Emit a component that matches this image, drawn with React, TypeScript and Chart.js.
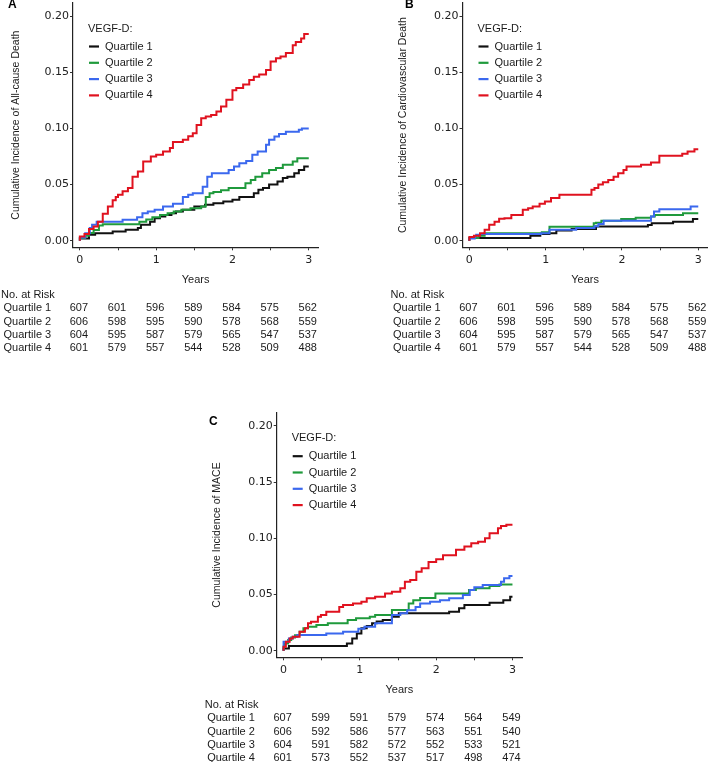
import React, { useEffect, useRef } from 'react';
import { Chart, registerables } from 'chart.js';
Chart.register(...registerables);

const SERIES_NAMES = ['Quartile 1', 'Quartile 2', 'Quartile 3', 'Quartile 4'];
const SERIES_COLORS = ['#111111', '#1f9a3c', '#3b68ee', '#e0121f'];
const X_TICKS = [0, 0.5, 1, 1.5, 2, 2.5, 3];
const Y_TICKS = [0, 0.05, 0.1, 0.15, 0.2];
const RISK_TIMES = [0, 0.5, 1, 1.5, 2, 2.5, 3];
const X_MIN = -0.09;
const X_MAX = 3.125;
const Y_MIN = -0.0058;
const Y_MAX = 0.2116;

// ---------- Panel A: All-cause death ----------
const A_Q1_T = [0, 0.12, 0.2, 0.43, 0.6, 0.76, 0.8, 0.92, 0.98, 1.05, 1.12, 1.2, 1.26, 1.35, 1.5, 1.64, 1.75, 1.88, 2.0, 2.09, 2.28, 2.34, 2.4, 2.48, 2.59, 2.66, 2.72, 2.81, 2.87, 2.94, 2.98, 3.0];
const A_Q1_Y = [0, 0.002, 0.0053, 0.0068, 0.0083, 0.0098, 0.0113, 0.0142, 0.017, 0.02, 0.0216, 0.023, 0.0246, 0.026, 0.0276, 0.0305, 0.032, 0.0335, 0.035, 0.0365, 0.039, 0.0424, 0.0454, 0.047, 0.05, 0.0528, 0.0558, 0.057, 0.06, 0.063, 0.066, 0.066];
const A_Q2_T = [0, 0.07, 0.12, 0.18, 0.25, 0.3, 0.78, 0.87, 0.95, 1.05, 1.15, 1.23, 1.33, 1.45, 1.59, 1.65, 1.7, 1.75, 1.85, 1.95, 2.17, 2.24, 2.3, 2.39, 2.48, 2.57, 2.66, 2.79, 2.85, 2.92, 3.0];
const A_Q2_Y = [0, 0.0024, 0.0045, 0.007, 0.0095, 0.0135, 0.0148, 0.017, 0.019, 0.021, 0.023, 0.0246, 0.026, 0.0276, 0.029, 0.0305, 0.039, 0.0424, 0.0435, 0.045, 0.047, 0.0513, 0.054, 0.057, 0.06, 0.063, 0.0647, 0.0676, 0.0705, 0.0735, 0.0735];
const A_Q3_T = [0, 0.07, 0.13, 0.16, 0.22, 0.56, 0.75, 0.82, 0.89, 0.98, 1.09, 1.22, 1.35, 1.42, 1.48, 1.61, 1.67, 1.73, 1.95, 2.02, 2.09, 2.18, 2.26, 2.33, 2.44, 2.48, 2.55, 2.61, 2.7, 2.87, 2.91, 2.98, 3.0];
const A_Q3_Y = [0, 0.003, 0.0068, 0.0113, 0.0142, 0.017, 0.0187, 0.021, 0.0246, 0.026, 0.0276, 0.0305, 0.033, 0.039, 0.041, 0.0424, 0.048, 0.057, 0.06, 0.063, 0.066, 0.069, 0.071, 0.0765, 0.0795, 0.0854, 0.09, 0.0928, 0.095, 0.097, 0.0988, 0.1, 0.1];
const A_Q4_T = [0, 0.06, 0.12, 0.18, 0.236, 0.3, 0.367, 0.43, 0.47, 0.5, 0.56, 0.63, 0.69, 0.76, 0.83, 0.93, 1.0, 1.09, 1.18, 1.22, 1.35, 1.42, 1.48, 1.53, 1.59, 1.65, 1.72, 1.79, 1.85, 1.92, 2.0, 2.05, 2.14, 2.22, 2.28, 2.35, 2.44, 2.5, 2.57, 2.63, 2.7, 2.79, 2.83, 2.9, 2.94, 2.98, 3.0];
const A_Q4_Y = [0, 0.0038, 0.006, 0.0104, 0.0127, 0.017, 0.024, 0.0305, 0.036, 0.039, 0.041, 0.044, 0.047, 0.057, 0.0617, 0.0706, 0.075, 0.0765, 0.0795, 0.0825, 0.088, 0.09, 0.093, 0.0958, 0.103, 0.109, 0.1106, 0.112, 0.115, 0.1195, 0.1254, 0.134, 0.136, 0.139, 0.143, 0.146, 0.148, 0.152, 0.1595, 0.1625, 0.164, 0.167, 0.174, 0.177, 0.18, 0.184, 0.184];
const A_RISK_Q1 = [607, 601, 596, 589, 584, 575, 562];
const A_RISK_Q2 = [606, 598, 595, 590, 578, 568, 559];
const A_RISK_Q3 = [604, 595, 587, 579, 565, 547, 537];
const A_RISK_Q4 = [601, 579, 557, 544, 528, 509, 488];

// ---------- Panel B: Cardiovascular death ----------
const B_Q1_T = [0, 0.8, 0.93, 1.05, 1.14, 1.34, 1.66, 2.34, 2.39, 2.67, 2.93, 2.98, 3.0];
const B_Q1_Y = [0, 0.0024, 0.0045, 0.006, 0.0068, 0.0092, 0.0104, 0.0127, 0.014, 0.0157, 0.017, 0.0193, 0.0193];
const B_Q2_T = [0, 0.12, 0.2, 0.95, 1.05, 1.63, 1.66, 1.73, 1.99, 2.18, 2.38, 2.43, 2.8, 2.94, 3.0];
const B_Q2_Y = [0, 0.0025, 0.0045, 0.0068, 0.0075, 0.0125, 0.0155, 0.016, 0.0178, 0.0193, 0.0205, 0.0216, 0.023, 0.0245, 0.0245];
const B_Q3_T = [0, 0.07, 0.09, 0.14, 0.94, 1.05, 1.4, 1.64, 1.69, 1.76, 2.38, 2.42, 2.49, 2.9, 2.94, 3.0];
const B_Q3_Y = [0, 0.002, 0.004, 0.0053, 0.006, 0.0068, 0.0098, 0.0113, 0.013, 0.015, 0.0178, 0.0216, 0.026, 0.028, 0.0305, 0.0305];
const B_Q4_T = [0, 0.06, 0.14, 0.2, 0.26, 0.33, 0.39, 0.46, 0.55, 0.7, 0.77, 0.83, 0.92, 0.99, 1.07, 1.18, 1.6, 1.64, 1.69, 1.75, 1.82, 1.89, 1.95, 2.02, 2.06, 2.25, 2.38, 2.49, 2.79, 2.86, 2.95, 2.99, 3.0];
const B_Q4_Y = [0, 0.0033, 0.0045, 0.0068, 0.0098, 0.0142, 0.017, 0.0196, 0.02, 0.023, 0.0276, 0.029, 0.0305, 0.033, 0.035, 0.038, 0.041, 0.0454, 0.047, 0.05, 0.052, 0.054, 0.057, 0.06, 0.063, 0.066, 0.0676, 0.0697, 0.0756, 0.0774, 0.0795, 0.0815, 0.0815];
const B_RISK_Q1 = [607, 601, 596, 589, 584, 575, 562];
const B_RISK_Q2 = [606, 598, 595, 590, 578, 568, 559];
const B_RISK_Q3 = [604, 595, 587, 579, 565, 547, 537];
const B_RISK_Q4 = [601, 579, 557, 544, 528, 509, 488];

// ---------- Panel C: MACE ----------
const C_Q1_T = [0, 0.07, 0.83, 0.9, 0.96, 1.02, 1.09, 1.16, 1.22, 1.3, 1.42, 1.51, 2.17, 2.3, 2.37, 2.7, 2.88, 2.97, 3.0];
const C_Q1_Y = [0, 0.002, 0.0042, 0.0065, 0.011, 0.0154, 0.02, 0.022, 0.0244, 0.026, 0.0273, 0.0303, 0.0333, 0.0347, 0.0377, 0.0406, 0.0427, 0.045, 0.048];
const C_Q2_T = [0, 0.01, 0.06, 0.1, 0.15, 0.21, 0.26, 0.32, 0.43, 0.58, 0.84, 0.95, 1.13, 1.2, 1.42, 1.64, 1.7, 1.79, 1.99, 2.43, 2.52, 2.7, 2.83, 2.92, 3.0];
const C_Q2_Y = [0, 0.0036, 0.0065, 0.0095, 0.0119, 0.0139, 0.017, 0.02, 0.0214, 0.023, 0.0244, 0.0273, 0.0288, 0.0303, 0.0318, 0.0362, 0.042, 0.045, 0.047, 0.051, 0.054, 0.0556, 0.0576, 0.059, 0.059];
const C_Q3_T = [0, 0.07, 0.12, 0.18, 0.56, 0.78, 0.98, 1.06, 1.2, 1.42, 1.53, 1.62, 1.73, 1.79, 1.92, 2.05, 2.17, 2.35, 2.44, 2.5, 2.61, 2.85, 2.89, 2.96, 3.0];
const C_Q3_Y = [0, 0.008, 0.011, 0.0125, 0.014, 0.0154, 0.017, 0.0195, 0.0214, 0.0244, 0.0318, 0.0333, 0.036, 0.039, 0.042, 0.0436, 0.045, 0.0467, 0.0496, 0.054, 0.0565, 0.0585, 0.0614, 0.0645, 0.0665];
const C_Q4_T = [0, 0.03, 0.08, 0.12, 0.21, 0.28, 0.32, 0.36, 0.45, 0.49, 0.56, 0.73, 0.78, 0.91, 1.02, 1.09, 1.2, 1.33, 1.42, 1.53, 1.59, 1.66, 1.74, 1.81, 1.9, 2.0, 2.09, 2.26, 2.37, 2.46, 2.55, 2.64, 2.7, 2.81, 2.85, 2.92, 3.0];
const C_Q4_Y = [0, 0.0036, 0.008, 0.011, 0.0125, 0.017, 0.02, 0.0244, 0.0259, 0.0303, 0.0318, 0.0347, 0.039, 0.0407, 0.042, 0.0436, 0.0467, 0.048, 0.051, 0.0525, 0.0556, 0.0614, 0.063, 0.0703, 0.0734, 0.079, 0.0814, 0.085, 0.0897, 0.0926, 0.0956, 0.097, 0.1, 0.1045, 0.109, 0.111, 0.112];
const C_RISK_Q1 = [607, 599, 591, 579, 574, 564, 549];
const C_RISK_Q2 = [606, 592, 586, 577, 563, 551, 540];
const C_RISK_Q3 = [604, 591, 582, 572, 552, 533, 521];
const C_RISK_Q4 = [601, 573, 552, 537, 517, 498, 474];

const SANS = '"Liberation Sans", Arial, sans-serif';
const TICK_FONT = '"DejaVu Sans", "Liberation Sans", sans-serif';
const XH = 40; // height of x-axis box (ticks + labels + title)

type Panel = {
  key: string;
  left: number; top: number; W: number; H: number;
  L: number; R: number; T: number; B: number;
  letter: string; letterX: number; letterY: number;
  yTitle: string; yTitleX: number;
  times: number[][]; values: number[][];
  risk: number[][];
};

const PANELS: Panel[] = [
  {
    key: 'A', left: 0, top: 0, W: 360, H: 370,
    L: 73, R: 318.3, T: 3, B: 247.3,
    letter: 'A', letterX: 8, letterY: 5,
    yTitle: 'Cumulative Incidence of All-cause Death', yTitleX: 16,
    times: [A_Q1_T, A_Q2_T, A_Q3_T, A_Q4_T], values: [A_Q1_Y, A_Q2_Y, A_Q3_Y, A_Q4_Y],
    risk: [A_RISK_Q1, A_RISK_Q2, A_RISK_Q3, A_RISK_Q4],
  },
  {
    key: 'B', left: 360, top: 0, W: 349, H: 370,
    L: 102.5, R: 347.8, T: 3, B: 247.3,
    letter: 'B', letterX: 45, letterY: 5,
    yTitle: 'Cumulative Incidence of Cardiovascular Death', yTitleX: 43,
    times: [B_Q1_T, B_Q2_T, B_Q3_T, B_Q4_T], values: [B_Q1_Y, B_Q2_Y, B_Q3_Y, B_Q4_Y],
    risk: [B_RISK_Q1, B_RISK_Q2, B_RISK_Q3, B_RISK_Q4],
  },
  {
    key: 'C', left: 180, top: 380, W: 360, H: 382,
    L: 96.7, R: 342, T: 32.7, B: 277.3,
    letter: 'C', letterX: 29, letterY: 41.7,
    yTitle: 'Cumulative Incidence of MACE', yTitleX: 36.7,
    times: [C_Q1_T, C_Q2_T, C_Q3_T, C_Q4_T], values: [C_Q1_Y, C_Q2_Y, C_Q3_Y, C_Q4_Y],
    risk: [C_RISK_Q1, C_RISK_Q2, C_RISK_Q3, C_RISK_Q4],
  },
];

function makeExtras(p: Panel) {
  return {
    id: 'panelExtras' + p.key,
    afterDraw(chart: any) {
      const ctx = chart.ctx;
      const area = chart.chartArea;
      const xs = chart.scales.x;
      ctx.save();
      ctx.textBaseline = 'middle';
      // panel letter
      ctx.fillStyle = '#000';
      ctx.textAlign = 'left';
      ctx.font = 'bold 12px ' + SANS;
      ctx.fillText(p.letter, p.letterX, p.letterY);
      // legend
      ctx.font = '11px ' + SANS;
      ctx.fillStyle = '#1a1a1a';
      ctx.fillText('VEGF-D:', area.left + 15, area.top + 25.5);
      chart.data.datasets.forEach((ds: any, i: number) => {
        const y = area.top + 43.5 + 16.3 * i;
        ctx.strokeStyle = ds.borderColor;
        ctx.lineWidth = 2.2;
        ctx.beginPath();
        ctx.moveTo(area.left + 16, y);
        ctx.lineTo(area.left + 26, y);
        ctx.stroke();
        ctx.fillText(ds.label, area.left + 32, y);
      });
      // risk table
      const base = area.bottom;
      ctx.fillText('No. at Risk', area.left - 72, base + 47.7);
      p.risk.forEach((row, i) => {
        const y = base + 61 + 13.3 * i;
        ctx.textAlign = 'left';
        ctx.fillText(SERIES_NAMES[i], area.left - 69.5, y);
        ctx.textAlign = 'center';
        row.forEach((n, j) => {
          ctx.fillText(String(n), xs.getPixelForValue(RISK_TIMES[j]) - 1, y);
        });
      });
      ctx.restore();
    },
  };
}

function PanelChart({ p }: { p: Panel }) {
  const ref = useRef<HTMLCanvasElement | null>(null);
  useEffect(() => {
    if (!ref.current) return;
    const datasets = SERIES_NAMES.map((name, i) => ({
      label: name,
      data: p.times[i].map((t, k) => ({ x: t, y: p.values[i][k] })),
      borderColor: SERIES_COLORS[i],
      backgroundColor: SERIES_COLORS[i],
      borderWidth: 2,
      pointRadius: 0,
      stepped: 'after' as const,
      fill: false,
      order: 3 - i,
    }));
    const chart = new Chart(ref.current, {
      type: 'line',
      data: { datasets },
      plugins: [makeExtras(p)],
      options: {
        responsive: false,
        animation: false,
        layout: {
          autoPadding: false,
          padding: { left: 0, top: p.T, right: p.W - p.R, bottom: p.H - p.B - XH },
        },
        plugins: { legend: { display: false }, tooltip: { enabled: false } },
        scales: {
          x: {
            type: 'linear',
            min: X_MIN,
            max: X_MAX,
            afterBuildTicks: (s: any) => { s.ticks = X_TICKS.map((v) => ({ value: v })); },
            afterFit: (s: any) => { s.height = XH; s.paddingLeft = 0; s.paddingRight = 0; },
            grid: { display: true, drawOnChartArea: false, drawTicks: true, tickLength: 3, tickColor: '#333', tickWidth: 1 },
            border: { display: true, color: '#222', width: 1.2 },
            ticks: {
              padding: 3, color: '#222', maxRotation: 0, autoSkip: false,
              font: { family: TICK_FONT, size: 11 },
              callback: (v: any) => (Number.isInteger(v) ? String(v) : ''),
            },
            title: { display: true, text: 'Years', color: '#222', font: { family: SANS, size: 11 }, padding: { top: 0, bottom: 1 } },
          },
          y: {
            type: 'linear',
            min: Y_MIN,
            max: Y_MAX,
            afterBuildTicks: (s: any) => { s.ticks = Y_TICKS.map((v) => ({ value: v })); },
            afterFit: (s: any) => { s.width = p.L; s.paddingTop = 0; s.paddingBottom = 0; },
            grid: { display: true, drawOnChartArea: false, drawTicks: true, tickLength: 3, tickColor: '#333', tickWidth: 1 },
            border: { display: true, color: '#222', width: 1.2 },
            ticks: {
              padding: 1, color: '#222', autoSkip: false,
              font: { family: TICK_FONT, size: 11 },
              callback: (v: any) => Number(v).toFixed(2),
            },
            title: {
              display: true, text: p.yTitle, color: '#222',
              font: { family: SANS, size: 10.5 },
              padding: { top: p.yTitleX - 6.3, bottom: 0 },
            },
          },
        },
      },
    } as any);
    return () => chart.destroy();
  }, [p]);
  return (
    <canvas
      ref={ref}
      width={p.W}
      height={p.H}
      style={{ position: 'absolute', left: p.left, top: p.top, width: p.W, height: p.H }}
    />
  );
}

export default function App() {
  return (
    <div style={{ position: 'absolute', left: 0, top: 0, width: 709, height: 762, background: '#fff', overflow: 'hidden' }}>
      {PANELS.map((p) => (
        <PanelChart key={p.key} p={p} />
      ))}
    </div>
  );
}
